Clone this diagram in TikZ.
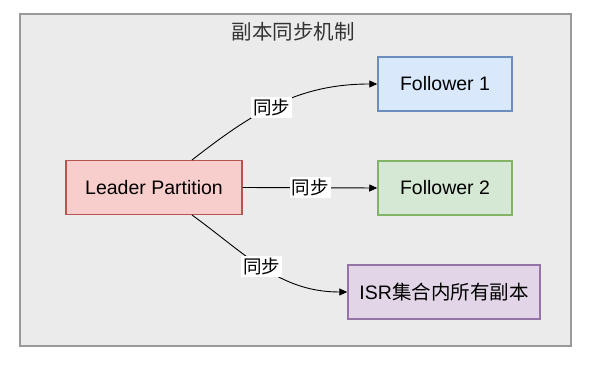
\documentclass[tikz,border=0pt]{standalone}
\usepackage{fontspec}
\setmainfont{Liberation Sans}
\newfontfamily\cjk{Noto Sans CJK SC}
\usetikzlibrary{arrows.meta}
\definecolor{bgc}{HTML}{EBEBEB}
\definecolor{bgs}{HTML}{9A9A9A}
\definecolor{redf}{HTML}{F8CECC}\definecolor{reds}{HTML}{B85450}
\definecolor{bluef}{HTML}{DAE8FC}\definecolor{blues}{HTML}{6C8EBF}
\definecolor{greenf}{HTML}{D5E8D4}\definecolor{greens}{HTML}{82B366}
\definecolor{purpf}{HTML}{E1D5E7}\definecolor{purps}{HTML}{9673A6}
\tikzset{
  box/.style={draw, line width=1.5pt, minimum width=#1, minimum height=54pt, inner sep=0pt, font=\fontsize{19.5}{22}\selectfont},
  lbl/.style={fill=white, inner sep=2pt, font=\cjk\fontsize{18.5}{20}\selectfont},
  conn/.style={draw, line width=0.9pt, -{Triangle[length=8pt,width=7pt]}}
}
\begin{document}
\begin{tikzpicture}[x=1pt,y=-1pt]
\useasboundingbox (0,0) rectangle (598,366);
\node[draw=bgs, fill=bgc, line width=1.5pt, minimum width=551pt, minimum height=332pt, inner sep=0pt] (frame) at (295.5,180) {};
\node[font=\cjk\fontsize{20.5}{23}\selectfont, text=black!80] (title) at (293,32) {副本同步机制};
\node[box=176pt, fill=redf, draw=reds] (lead) at (154,187.5) {Leader Partition};
\node[box=134pt, fill=bluef, draw=blues] (f1) at (445,84) {Follower 1};
\node[box=134pt, fill=greenf, draw=greens] (f2) at (445,188) {Follower 2};
\node[box=192pt, fill=purpf, draw=purps] (isr) at (444,292) {ISR{\cjk 集合内所有副本}};
\coordinate (ls1) at (192,160);
\coordinate (ls3) at (192,215);
\draw[conn] (ls1) to[out=38,in=180] node[lbl, pos=0.46] (l1) {同步} (f1.west);
\draw[conn] (lead.east) -- node[lbl, pos=0.5] (l2) {同步} (f2.west);
\draw[conn] (ls3) to[out=-36,in=180] node[lbl, pos=0.48] (l3) {同步} (isr.west);
\end{tikzpicture}
\end{document}
